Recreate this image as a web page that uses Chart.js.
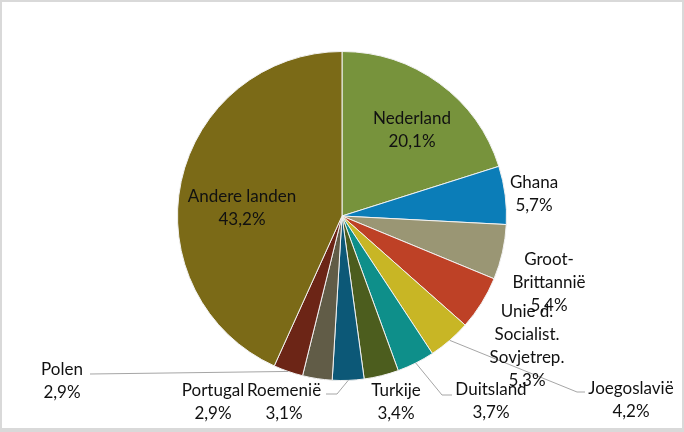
<!DOCTYPE html>
<html>
<head>
<meta charset="utf-8">
<script src="https://cdn.jsdelivr.net/npm/chart.js@4"></script>
<style>
  html, body { margin: 0; padding: 0; background: #fff; }
  #wrap { width: 684px; height: 432px; }
</style>
</head>
<body>
<div id="wrap"><canvas id="grafiekTaart" width="684" height="432"></canvas></div>
<script>
const landen = ["Nederland", "Ghana", "Groot-Brittannië", "Unie d. Socialist. Sovjetrep.", "Joegoslavië",
  "Duitsland", "Turkije", "Roemenië", "Portugal", "Polen", "Andere landen"];
const aandeel = [20.1, 5.7, 5.4, 5.3, 4.2, 3.7, 3.4, 3.1, 2.9, 2.9, 43.2];
const kleuren = ["#77933c", "#0b7db8", "#9a9674", "#be4126", "#c8b625", "#0e8f8a",
  "#4c5d1e", "#0c5877", "#615c47", "#6c2516", "#7b6a17"];

// hoe de namen in het label worden afgebroken
const afbreken = {
  "Groot-Brittannië": ["Groot-", "Brittannië"],
  "Unie d. Socialist. Sovjetrep.": ["Unie d.", "Socialist.", "Sovjetrep."]
};

// plek van elk label (midden van de eerste regel) en eventuele leader line
const labelPlek = [[412, 119], [534, 183], [549, 260], [527, 312], [631, 389], [491, 390],
  [396, 391], [284, 391], [213, 391], [62, 370], [242, 197]];
const leaderPunten = {
  4: [[577, 392], [585, 392]],
  5: [[442, 395], [452, 395]],
  7: [[337, 394], [326, 394]],
  9: [[90, 374]]
};

const kader = {
  id: 'kader',
  beforeDraw(chart) {
    const ctx = chart.ctx;
    ctx.save();
    ctx.fillStyle = '#d9d9d9';
    ctx.fillRect(0, 0, chart.width, chart.height);
    ctx.fillStyle = '#ffffff';
    ctx.fillRect(2, 2, chart.width - 4, chart.height - 6);
    ctx.restore();
  }
};

const labels = {
  id: 'labels',
  afterDatasetsDraw(chart) {
    const ctx = chart.ctx;
    const meta = chart.getDatasetMeta(0);
    ctx.save();
    meta.data.forEach((arc, i) => {
      const p = arc.getProps(['x', 'y', 'startAngle', 'endAngle', 'outerRadius'], true);
      const mid = (p.startAngle + p.endAngle) / 2;
      const ex = p.x + Math.cos(mid) * p.outerRadius;
      const ey = p.y + Math.sin(mid) * p.outerRadius;
      if (leaderPunten[i]) {
        ctx.strokeStyle = '#a6a6a6';
        ctx.lineWidth = 1;
        ctx.beginPath();
        ctx.moveTo(ex, ey);
        leaderPunten[i].forEach(pt => ctx.lineTo(pt[0], pt[1]));
        ctx.stroke();
      }
    });
    ctx.font = '17px Lato';
    ctx.fillStyle = '#111111';
    ctx.textAlign = 'center';
    ctx.textBaseline = 'middle';
    landen.forEach((naam, i) => {
      const regels = (afbreken[naam] || [naam]).concat([aandeel[i].toFixed(1).replace('.', ',') + '%']);
      const [lx, ly] = labelPlek[i];
      regels.forEach((r, j) => ctx.fillText(r, lx, ly + j * 23));
    });
    ctx.restore();
  }
};

new Chart(document.getElementById('grafiekTaart'), {
  type: 'pie',
  data: {
    labels: landen,
    datasets: [{
      data: aandeel,
      backgroundColor: kleuren,
      borderColor: '#f2f2f2',
      borderWidth: 1
    }]
  },
  options: {
    responsive: false,
    animation: false,
    layout: { padding: { top: 51, bottom: 51, left: 0, right: 0 } },
    plugins: {
      legend: { display: false },
      tooltip: { enabled: false }
    }
  },
  plugins: [kader, labels]
});
</script>
</body>
</html>
